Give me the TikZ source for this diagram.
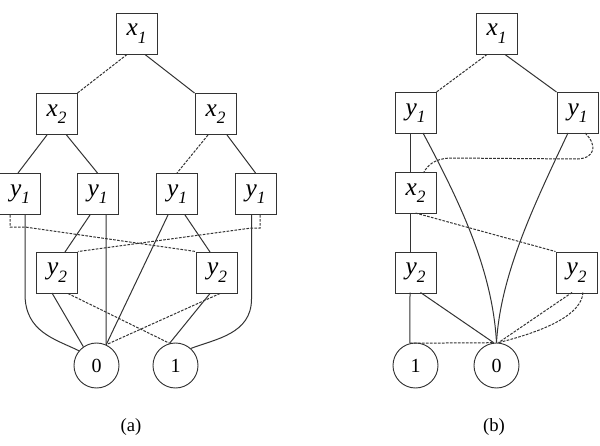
\documentclass[tikz,border=0pt]{standalone}
\usepackage{fontspec}
\setmainfont{Liberation Serif}
\usetikzlibrary{calc}
\tikzset{
 bx/.style={draw=black!80, line width=0.7pt, minimum width=30.75pt, minimum height=30.75pt, inner sep=0pt, font=\fontsize{19}{22}\selectfont},
 term/.style={circle, draw=black!80, line width=0.7pt, minimum size=33.75pt, inner sep=0pt, font=\fontsize{15}{17}\selectfont},
 ln/.style={draw=black!80, line width=0.75pt},
 lodash/.style={ln, dash pattern=on 2pt off 1pt},
 sublabel/.style={font=\fontsize{14}{16}\selectfont, inner sep=0pt}
}
\newcommand\vlbl[2]{\textit{#1}\raisebox{-0.3em}{\fontsize{13}{15}\selectfont\textit{#2}}}
\begin{document}
\begin{tikzpicture}[x=0.75pt,y=-0.75pt]
\useasboundingbox (0,0) rectangle (600,446);
% ---------- (a) ----------
\node[bx] (ax1) at (136.5,33.5) {\vlbl{x}{1}};
\node[bx] (ax2L) at (56.5,114) {\vlbl{x}{2}};
\node[bx] (ax2R) at (215.5,114) {\vlbl{x}{2}};
\node[bx] (ay1a) at (20,194) {\vlbl{y}{1}};
\node[bx] (ay1b) at (97.5,194) {\vlbl{y}{1}};
\node[bx] (ay1c) at (177,194) {\vlbl{y}{1}};
\node[bx] (ay1d) at (255.5,194) {\vlbl{y}{1}};
\node[bx] (ay2L) at (57,272.5) {\vlbl{y}{2}};
\node[bx] (ay2R) at (217,272.5) {\vlbl{y}{2}};
\node[term] (a0) at (96.5,365.5) {0};
\node[term] (a1) at (175.5,365.5) {1};
\node[sublabel] (alab) at (131,427) {(a)};

\draw[lodash] ($(ax1)+(-9.5,21)$) -- (ax2L.north east);
\draw[ln] ($(ax1)+(8.5,21)$) -- (ax2R.north west);
\draw[ln] ($(ax2L)+(-9.5,21)$) -- ($(ay1a)+(-2,-21)$);
\draw[ln] ($(ax2L)+(10,21)$) -- ($(ay1b)+(0,-21)$);
\draw[lodash] ($(ax2R)+(-7.5,21)$) -- ($(ay1c)+(0,-21)$);
\draw[ln] ($(ax2R)+(11.5,21)$) -- ($(ay1d)+(0,-21)$);
% y1a
\draw[lodash] ($(ay1a)+(-10,21)$) |- ($(ay1a)+(5,33)$) -- (ay2R.north west);
\draw[ln] ($(ay1a)+(5,21)$) -- ($(ay1a)+(5,100)$) .. controls ($(ay1a)+(5,138)$) and ($(ay1a)+(35,145)$) .. (a0.140);
% y1b
\draw[ln] ($(ay1b)+(-7.5,21)$) -- ($(ay2L)+(8,-20.5)$);
\draw[ln] ($(ay1b)+(8.5,21)$) -- (a0.65);
% y1c
\draw[ln] ($(ay1c)+(-9,21)$) -- (a0.65);
\draw[ln] ($(ay1c)+(8,21)$) -- ($(ay2R)+(-7,-20.5)$);
% y1d
\draw[lodash] ($(ay1d)+(4.5,21)$) |- ($(ay1d)+(-4,34)$) -- (ay2L.north east);
\draw[ln] ($(ay1d)+(-4,21)$) -- ($(ay1d)+(-4,105)$) .. controls ($(ay1d)+(-4,140)$) and ($(ay1d)+(-40,145)$) .. (a1.48);
% y2
\draw[ln] ($(ay2L)+(-5,20.5)$) -- (a0.125);
\draw[lodash] ($(ay2L)+(11,21)$) -- (a1.105);
\draw[lodash] ($(ay2R)+(3,21)$) -- (a0.65);
\draw[ln] ($(ay2R)+(-7,21)$) -- (a1.105);

% ---------- (b) ----------
\node[bx] (bx1) at (496.5,33.5) {\vlbl{x}{1}};
\node[bx] (by1L) at (415.5,113) {\vlbl{y}{1}};
\node[bx] (by1R) at (577.5,113) {\vlbl{y}{1}};
\node[bx] (bx2) at (415.5,193) {\vlbl{x}{2}};
\node[bx] (by2L) at (415.5,272.5) {\vlbl{y}{2}};
\node[bx] (by2R) at (576.5,272.5) {\vlbl{y}{2}};
\node[term] (b1) at (415.5,365.5) {1};
\node[term] (b0) at (496.5,365.5) {0};
\node[sublabel] (blab) at (494,427) {(b)};

\draw[lodash] ($(bx1)+(-9.5,21)$) -- (by1L.north east);
\draw[ln] ($(bx1)+(8.5,21)$) -- (by1R.north west);
\draw[ln] ($(by1L)+(-5.5,20)$) -- ($(bx2)+(-5.5,-20)$);
\draw[ln] ($(by1L)+(7.5,20)$) .. controls ($(by1L)+(45,90)$) and ($(b0)+(-4,-95)$) .. (b0.north);
\draw[ln] ($(by1R)+(-9.5,20)$) .. controls ($(by1R)+(-45,95)$) and ($(b0)+(4,-90)$) .. (b0.north);
\draw[lodash] ($(by1R)+(7.5,20)$) .. controls ($(by1R)+(20,32)$) and ($(by1R)+(18,45)$) .. ($(by1R)+(0,46)$) -- ($(bx2)+(34,-35)$) .. controls ($(bx2)+(19,-34)$) and ($(bx2)+(12,-28)$) .. ($(bx2)+(8,-20)$);
\draw[ln] ($(bx2)+(-5.5,20)$) -- ($(by2L)+(-5.5,-20)$);
\draw[lodash] ($(bx2)+(0,20)$) -- (by2R.north west);
\draw[ln] ($(by2L)+(-5.5,20)$) -- (b1.104);
\draw[ln] ($(by2L)+(5,20)$) -- (b0.97);
\draw[lodash] (b1.104) -- (b0.97);
\draw[lodash] ($(by2R)+(-4.5,20)$) -- (b0.85);
\draw[lodash] ($(by2R)+(6.5,20)$) .. controls ($(by2R)+(5,42)$) and ($(by2R)+(-30,58)$) .. (b0.85);
\end{tikzpicture}
\end{document}
